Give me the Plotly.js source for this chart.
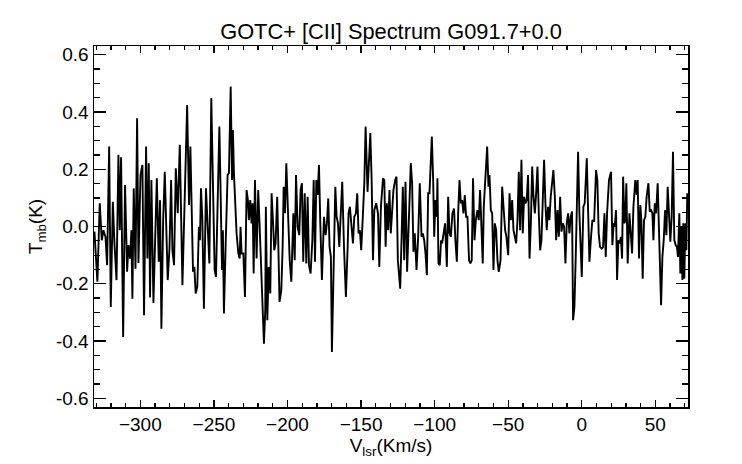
<!DOCTYPE html>
<html>
<head>
<meta charset="utf-8">
<script src="https://cdn.plot.ly/plotly-3.0.1.min.js"></script>
<style>html,body{margin:0;padding:0;background:#fff;}#chart{width:742px;height:464px;}</style>
</head>
<body>
<div id="chart"></div>
<script>
// Velocity (km/s) and main-beam temperature (K), in segments
const vlsr1 = [-331.2,-329.2,-327.6,-326.2,-325.1,-323.7,-322.6,-321.2,-320.1,-318.7,-317.6,-316.2,-314.9,-314.0,-313.1,-311.7,-310.4,-309.0,-308.1,-307.0,-306.1,-305.4,-304.5,-303.3,-302.2,-301.3,-299.9,-298.6,-297.5,-296.1,-295.2,-294.3,-293.4,-292.5,-291.1,-290.0,-288.8,-287.5,-286.6,-285.7,-284.5,-283.4,-282.3,-281.4,-280.2,-279.1,-278.2,-277.1,-275.9,-274.6,-273.2,-271.4,-268.2,-266.9,-266.0];
const tmb1 = [-0.018,-0.193,0.081,-0.048,-0.013,-0.036,-0.135,0.279,-0.281,0.086,-0.059,-0.187,0.250,-0.013,0.242,-0.386,0.145,-0.158,-0.065,-0.112,-0.013,-0.252,0.133,-0.147,0.378,-0.127,0.180,0.215,-0.310,0.279,-0.112,0.221,-0.248,0.162,-0.267,-0.001,0.168,-0.123,0.092,-0.357,0.022,0.191,0.011,-0.187,-0.077,0.162,-0.083,-0.135,0.203,0.046,0.285,-0.205,0.424,0.075,0.279];

const vlsr2 = [-264.2,-263.3,-262.4,-261.3,-260.2,-259.5,-258.8,-257.9,-256.8,-255.4,-254.3,-253.1,-251.8,-250.4,-249.5,-248.6,-247.5,-246.3,-245.4,-244.5,-243.9,-243.2,-242.0,-240.7,-239.8,-238.6,-237.7,-237.1,-236.4,-235.7,-234.6,-233.4,-232.5,-231.9,-231.2,-230.0,-228.9,-227.8,-226.9,-226.2,-225.3,-224.4,-223.7,-223.0,-222.1,-221.0,-219.9,-219.0,-217.8,-216.9,-216.0,-215.1,-214.7,-213.7,-212.8,-211.7,-210.8,-209.9,-209.0,-208.1,-207.0,-206.3,-205.4,-204.2,-203.3,-202.6,-201.7];
const tmb2 = [-0.158,-0.141,-0.234,-0.211,-0.001,-0.048,0.133,0.034,-0.287,0.133,0.022,-0.129,0.448,0.046,-0.152,-0.176,0.139,0.349,0.104,-0.152,-0.013,-0.304,-0.059,0.180,0.186,0.489,0.162,0.337,0.186,0.087,-0.024,-0.094,-0.112,-0.001,-0.094,-0.094,-0.246,0.127,0.092,0.022,0.092,0.011,0.081,-0.164,0.162,-0.112,0.127,0.011,-0.187,-0.327,-0.409,-0.292,0.069,-0.327,-0.141,-0.234,0.116,0.022,-0.083,-0.059,0.104,-0.048,-0.263,-0.222,-0.071,0.139,0.046];

const vlsr3 = [-200.8,-199.7,-198.5,-197.4,-196.0,-195.1,-194.2,-193.1,-192.0,-191.1,-190.2,-189.3,-188.3,-187.2,-186.3,-185.4,-184.3,-183.1,-182.2,-181.3,-180.4,-179.5,-178.6,-177.7,-176.6,-175.2,-174.1,-173.2,-172.3,-171.4,-170.5,-169.8,-168.6,-167.5,-166.6,-165.7,-164.8,-163.9,-162.8,-161.6,-160.3,-159.1,-158.5,-157.6,-156.4,-155.5,-154.6,-153.5,-152.6,-151.7,-150.8,-149.9,-148.7,-147.8,-146.9,-145.6,-143.7,-142.8,-141.9,-141.0,-139.7,-138.5,-137.6,-136.5,-135.1,-134.2,-133.3];
const tmb3 = [0.221,0.046,-0.118,-0.193,0.046,-0.118,0.180,-0.001,-0.030,0.127,0.151,-0.123,0.116,-0.129,0.104,-0.135,-0.164,-0.048,0.162,-0.123,0.162,0.110,0.215,0.011,-0.187,0.034,-0.030,0.011,0.098,-0.071,-0.106,-0.438,-0.071,0.139,0.034,0.011,-0.071,0.022,0.156,-0.071,-0.246,-0.071,0.046,0.069,-0.001,-0.059,0.034,0.046,0.116,-0.024,-0.013,-0.083,0.046,0.151,0.349,0.121,0.326,0.162,-0.118,0.057,0.081,0.046,-0.141,0.069,0.168,0.162,-0.071];

const vlsr4 = [-132.5,-131.6,-130.7,-129.8,-128.9,-128.0,-126.8,-125.9,-125.0,-124.1,-123.4,-122.5,-121.6,-120.7,-119.8,-118.7,-117.5,-116.2,-115.3,-114.4,-113.5,-112.3,-111.2,-110.1,-108.9,-108.0,-107.1,-106.2,-105.3,-104.4,-103.5,-102.8,-101.9,-101.0,-100.3,-99.4,-98.5,-98.1,-97.4,-96.5,-95.6,-94.9,-94.0,-92.9,-91.7,-90.8,-89.9,-89.0,-87.9,-86.8,-85.9,-84.9,-84.0,-83.1,-82.2,-81.3,-80.4,-79.5,-78.6,-77.7,-76.6,-75.7,-74.8,-73.9,-72.9,-72.0,-70.9,-70.0,-69.1,-68.2,-67.3];
const tmb4 = [0.081,-0.013,0.127,-0.024,0.046,0.127,0.162,0.174,-0.118,-0.164,-0.217,-0.048,0.139,-0.118,0.156,-0.158,0.046,0.221,0.151,-0.088,-0.024,-0.152,-0.036,0.151,-0.036,-0.024,-0.048,-0.094,-0.170,0.116,0.116,0.186,0.314,0.162,-0.036,0.092,0.034,0.168,-0.129,-0.135,-0.048,-0.059,-0.024,0.011,-0.141,0.104,-0.024,-0.036,0.046,0.063,-0.048,-0.123,0.046,0.162,0.081,0.092,0.046,0.110,0.034,0.034,-0.118,-0.129,-0.118,0.168,-0.048,0.022,0.057,0.022,0.127,-0.007,-0.129];

const vlsr5 = [-66.6,-65.4,-64.3,-63.4,-62.7,-61.8,-60.9,-60.0,-59.1,-58.2,-57.3,-56.4,-55.2,-54.1,-53.0,-52.1,-51.2,-50.0,-49.1,-48.2,-47.3,-46.4,-45.5,-44.6,-43.7,-42.8,-41.9,-41.0,-40.1,-39.2,-38.3,-37.4,-36.5,-35.5,-34.6,-33.7,-32.8,-31.9,-31.0,-30.1,-29.2,-28.3,-27.4,-26.5,-25.6,-24.7,-23.8,-22.9,-22.0,-21.1,-20.2,-19.3,-18.3,-17.4,-16.5,-15.6,-14.7,-13.8,-12.9,-12.0,-11.1,-10.2,-9.3,-8.4,-7.5,-6.6,-5.9,-5.0,-4.1,-3.2,-2.5,-1.6,-0.7];
const tmb5 = [0.069,0.162,0.279,0.139,0.180,0.057,0.046,-0.152,0.011,-0.013,-0.118,-0.158,-0.118,0.139,0.046,-0.013,-0.036,-0.100,0.116,0.022,0.092,-0.013,-0.036,-0.059,0.022,0.191,-0.013,0.233,-0.024,0.104,0.081,0.092,0.180,-0.112,0.011,0.209,0.104,0.046,0.116,0.209,0.046,-0.083,-0.048,0.104,0.233,0.081,-0.013,0.069,0.022,0.104,0.151,0.197,0.104,-0.048,0.057,-0.036,0.104,-0.018,0.011,-0.001,-0.129,0.011,0.046,-0.024,0.034,0.052,-0.327,-0.281,-0.106,0.162,0.261,0.046,-0.071];

const vlsr6 = [0.0,1.1,2.0,3.4,4.3,5.2,6.3,7.2,8.4,9.7,10.6,11.5,12.4,13.6,14.5,15.4,16.3,17.2,18.5,19.9,20.8,21.7,22.4,23.3,24.0,24.9,25.8,26.5,27.4,28.1,29.0,29.6,30.3,31.2,32.4,33.3,34.2,35.1,35.8,36.4,37.3,38.0,38.9,39.8,40.5,41.4,42.3,43.2,44.1,45.3,46.2,47.1,48.0,48.7,49.6,50.5,51.6,52.5,53.2,53.9,54.8,55.7,56.6,57.5,58.4,59.3,60.2,61.1,62.0,62.9,63.8,64.7,65.4,66.3,67.0,67.7,68.4,69.0,69.7,70.4,71.1,71.7];
const tmb6 = [-0.176,0.069,0.081,0.238,0.011,-0.123,-0.036,0.022,0.017,0.197,0.162,-0.024,-0.071,-0.077,-0.071,0.046,-0.106,0.046,0.162,0.191,-0.065,0.011,-0.001,0.057,-0.187,-0.048,-0.059,-0.036,-0.112,0.174,0.011,0.022,0.151,-0.129,0.046,-0.036,-0.094,0.069,0.116,0.162,0.110,0.162,-0.112,0.075,0.022,-0.182,0.022,0.034,0.104,0.151,0.052,0.057,0.046,-0.048,0.081,0.046,0.151,-0.048,-0.176,-0.275,-0.106,-0.048,0.057,-0.030,0.139,0.046,-0.053,0.034,0.261,-0.048,-0.065,-0.071,-0.106,0.046,-0.164,-0.001,-0.187,0.011,-0.182,0.011,-0.083,0.116];

const xRange = [-331.5, 72.2];
const yRange = [-0.63, 0.63];

const vlsr = [].concat(vlsr1, vlsr2, vlsr3, vlsr4, vlsr5, vlsr6);
const tmb = [].concat(tmb1, tmb2, tmb3, tmb4, tmb5, tmb6);

const FONT = 'Liberation Sans, Arial, Helvetica, sans-serif';

const trace = {
  x: vlsr, y: tmb, type: 'scatter', mode: 'lines',
  line: {color: '#000', width: 1.9},
  hoverinfo: 'skip'
};

const layout = {
  width: 742, height: 464,
  margin: {l: 94, r: 54, t: 46, b: 57, pad: 0},
  paper_bgcolor: '#fff', plot_bgcolor: '#fff',
  showlegend: false,
  font: {family: FONT, color: '#000', size: 19},
  title: {
    text: 'GOTC+ [CII] Spectrum G091.7+0.0',
    font: {family: FONT, size: 21.8, color: '#000'},
    x: 0.5, xref: 'paper', xanchor: 'center',
    y: 1 - 31/464, yref: 'container', yanchor: 'middle'
  },
  xaxis: {
    range: xRange, autorange: false,
    tickmode: 'linear', tick0: 0, dtick: 50,
    ticks: 'inside', ticklen: 7, tickwidth: 1.3, tickcolor: '#000',
    minor: {dtick: 10, ticks: 'inside', ticklen: 4, tickwidth: 1.3, tickcolor: '#000'},
    showline: true, linecolor: '#000', linewidth: 1.5, mirror: 'allticks',
    showgrid: false, zeroline: false,
    tickfont: {family: FONT, size: 19, color: '#000'},
    title: {text: 'V<sub>lsr</sub>(Km/s)', font: {family: FONT, size: 19, color: '#000'}, standoff: 4},
    automargin: false
  },
  yaxis: {
    range: yRange, autorange: false,
    tickmode: 'array', tickvals: [-0.6,-0.4,-0.2,0,0.2,0.4,0.6],
    ticktext: ['-0.6','-0.4','-0.2','0.0','0.2','0.4','0.6'],
    ticks: 'inside', ticklen: 12, tickwidth: 1.3, tickcolor: '#000',
    minor: {dtick: 0.05, tick0: 0, ticks: 'inside', ticklen: 6, tickwidth: 1.3, tickcolor: '#000'},
    showline: true, linecolor: '#000', linewidth: 1.5, mirror: 'allticks',
    showgrid: false, zeroline: false,
    tickfont: {family: FONT, size: 19, color: '#000'},
    title: {text: 'T<sub>mb</sub>(K)', font: {family: FONT, size: 19, color: '#000'}, standoff: 8},
    automargin: false
  }
};

Plotly.newPlot('chart', [trace], layout, {staticPlot: true, displayModeBar: false});
</script>
</body>
</html>
